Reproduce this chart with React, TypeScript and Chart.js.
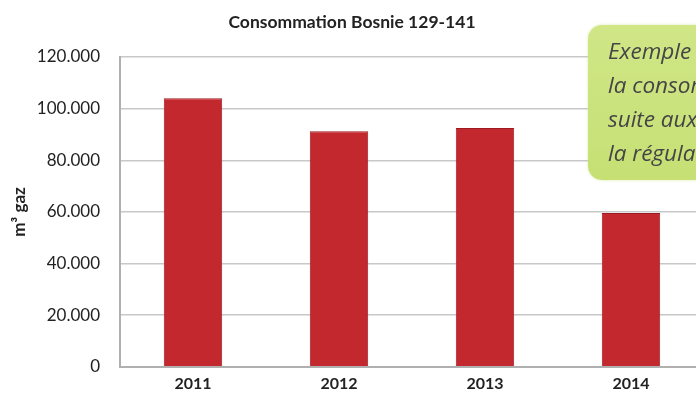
import React, { useEffect, useRef } from "react";
import { Chart, registerables } from "chart.js";

Chart.register(...registerables);

const years = ["2011", "2012", "2013", "2014"];
const consumption = [104000, 91200, 92500, 59600];
const yTicksMax = 120000;
const yStep = 20000;
const chartTitle = "Consommation Bosnie 129-141";
const yAxisTitle = "m³ gaz";
const calloutLines = ["Exemple de", "la consommation", "suite aux travaux de", "la régulation"];

function fmt(v: number): string {
  return String(Math.round(v)).replace(/\B(?=(\d{3})+(?!\d))/g, ".");
}

export default function App() {
  const ref = useRef<HTMLCanvasElement | null>(null);

  useEffect(() => {
    if (!ref.current) return;
    const chart = new Chart(ref.current, {
      type: "bar",
      data: {
        labels: years,
        datasets: [
          {
            data: consumption,
            backgroundColor: "#c3282e",
            borderColor: "#a01b21",
            borderWidth: 1,
            barPercentage: 0.4,
            categoryPercentage: 1,
          },
        ],
      },
      options: {
        responsive: false,
        maintainAspectRatio: false,
        animation: false,
        layout: { padding: { top: 12, left: 0, right: 0, bottom: 0 } },
        plugins: {
          legend: { display: false },
          tooltip: { enabled: false },
          title: {
            display: true,
            text: chartTitle,
            color: "#222",
            font: { family: "Lato", size: 17.5, weight: "bold" },
            padding: { top: 0, bottom: 24 },
          },
        },
        scales: {
          x: {
            grid: { display: false, drawTicks: false },
            border: { display: true, color: "#b0b0b0", width: 2 },
            ticks: {
              color: "#222",
              padding: 7,
              font: { family: "Lato", size: 16, weight: "bold" },
            },
          },
          y: {
            min: 0,
            max: yTicksMax,
            afterFit: (scale: any) => {
              scale.width = 120;
            },
            grid: { color: "#c8c8c8", lineWidth: 1.5, drawTicks: false },
            border: { display: true, color: "#b0b0b0", width: 2 },
            ticks: {
              stepSize: yStep,
              padding: 20,
              color: "#222",
              font: { family: "Lato", size: 17 },
              callback: (v: any) => fmt(Number(v)),
            },
            title: {
              display: true,
              text: yAxisTitle,
              color: "#222",
              font: { family: "Lato", size: 17, weight: "bold" },
              padding: { top: 9, bottom: 0 },
            },
          },
        },
      },
    });
    return () => chart.destroy();
  }, []);

  return (
    <div
      style={{
        position: "fixed",
        left: 0,
        top: 0,
        width: 696,
        height: 400,
        overflow: "hidden",
        background: "#fff",
      }}
    >
      <canvas ref={ref} width={704} height={400} style={{ display: "block" }} />
      <div
        style={{
          position: "absolute",
          left: 588,
          top: 25,
          width: 170,
          height: 155,
          borderRadius: 14,
          background: "linear-gradient(180deg, #d0e687 0%, #c6e074 100%)",
          boxShadow: "0 0 3px rgba(200,225,120,0.6)",
          paddingTop: 9,
          paddingLeft: 20,
          boxSizing: "border-box",
          fontFamily: "'Open Sans', Lato, sans-serif",
          fontStyle: "italic",
          fontSize: 22.5,
          lineHeight: "34px",
          color: "#454545",
          whiteSpace: "nowrap",
        }}
      >
        {calloutLines.map((l, i) => (
          <div key={i}>{l}</div>
        ))}
      </div>
    </div>
  );
}
